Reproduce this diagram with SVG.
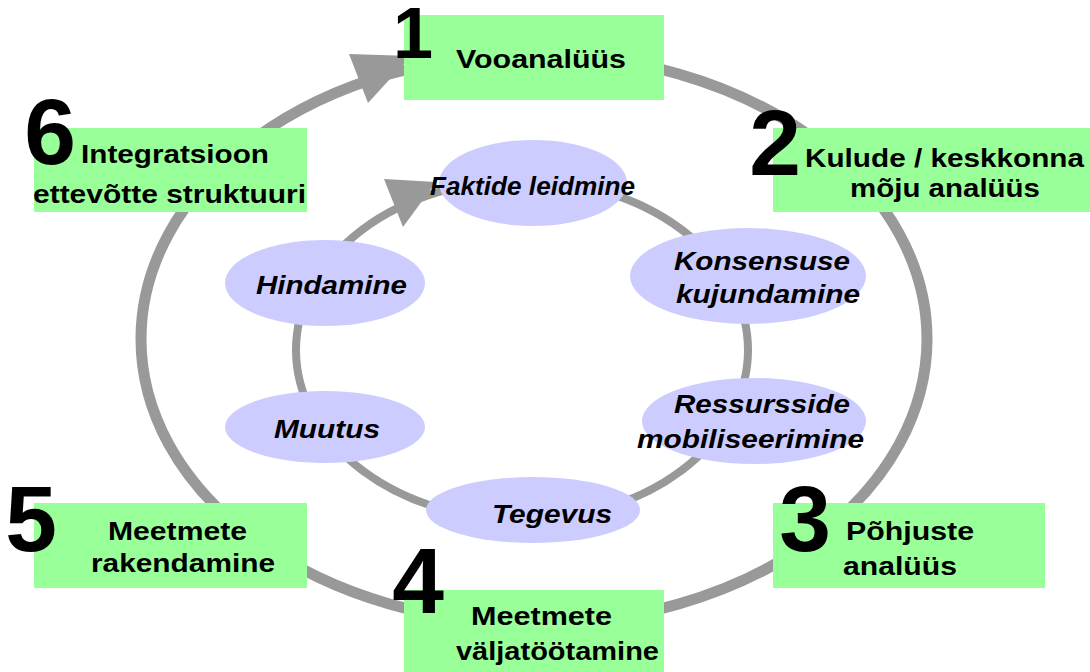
<svg xmlns="http://www.w3.org/2000/svg" width="1090" height="672" viewBox="0 0 1090 672">
<style>
.ring{fill:none;stroke:#999999}
.head{fill:#999999}
.box{fill:#99FF99}
.oval{fill:#CCCCFF}
.bt{font-family:"Liberation Sans",Arial,sans-serif;font-weight:bold;font-size:26px;fill:#000}
.it{font-family:"Liberation Sans",Arial,sans-serif;font-weight:bold;font-style:italic;font-size:26px;fill:#000}
.num{font-family:"Liberation Sans",Arial,sans-serif;font-weight:bold;font-size:93px;fill:#000;text-anchor:middle}
</style>
<rect width="1090" height="672" fill="#ffffff"/>
<g id="connectors">
  <ellipse class="ring" cx="534" cy="339" rx="393" ry="285" stroke-width="11"/>
  <polygon class="head" points="349,54 411,56 368,103"/>
  <ellipse class="ring" cx="522" cy="350" rx="226" ry="170" stroke-width="8"/>
  <polygon class="head" points="384,179 436,182 403,227"/>
</g>
<g id="step1">
  <rect class="box" x="404" y="15" width="260" height="85"/>
  <text class="bt" x="456" y="68" textLength="170" lengthAdjust="spacingAndGlyphs">Vooanalüüs</text>
  <text class="num" x="413" y="58" style="font-size:72px">1</text>
</g>
<g id="step2">
  <rect class="box" x="773" y="128" width="317" height="84"/>
  <text class="bt" x="805" y="167" textLength="279" lengthAdjust="spacingAndGlyphs">Kulude / keskkonna</text>
  <text class="bt" x="850" y="197" textLength="190" lengthAdjust="spacingAndGlyphs">mõju analüüs</text>
  <text class="num" x="775" y="175">2</text>
</g>
<g id="step3">
  <rect class="box" x="773" y="503" width="272" height="85"/>
  <text class="bt" x="846" y="540" textLength="128" lengthAdjust="spacingAndGlyphs">Põhjuste</text>
  <text class="bt" x="843" y="575" textLength="114" lengthAdjust="spacingAndGlyphs">analüüs</text>
  <text class="num" x="805" y="551">3</text>
</g>
<g id="step4">
  <rect class="box" x="404" y="590" width="260" height="82"/>
  <text class="bt" x="471" y="625" textLength="141" lengthAdjust="spacingAndGlyphs">Meetmete</text>
  <text class="bt" x="456" y="660" textLength="203" lengthAdjust="spacingAndGlyphs">väljatöötamine</text>
  <text class="num" x="418" y="613">4</text>
</g>
<g id="step5">
  <rect class="box" x="34" y="503" width="273" height="85"/>
  <text class="bt" x="108" y="540" textLength="139" lengthAdjust="spacingAndGlyphs">Meetmete</text>
  <text class="bt" x="91" y="572" textLength="184" lengthAdjust="spacingAndGlyphs">rakendamine</text>
  <text class="num" x="31" y="551">5</text>
</g>
<g id="step6">
  <rect class="box" x="34" y="128" width="273" height="84"/>
  <text class="bt" x="81" y="163" textLength="188" lengthAdjust="spacingAndGlyphs">Integratsioon</text>
  <text class="bt" x="33" y="203" textLength="273" lengthAdjust="spacingAndGlyphs">ettevõtte struktuuri</text>
  <text class="num" x="50" y="164">6</text>
</g>
<g id="faktide">
  <ellipse class="oval" cx="533" cy="183" rx="94" ry="43"/>
  <text class="it" x="430" y="195" textLength="205" lengthAdjust="spacingAndGlyphs">Faktide leidmine</text>
</g>
<g id="konsensuse">
  <ellipse class="oval" cx="748" cy="276" rx="118" ry="48"/>
  <text class="it" x="674" y="270" textLength="176" lengthAdjust="spacingAndGlyphs">Konsensuse</text>
  <text class="it" x="676" y="303" textLength="184" lengthAdjust="spacingAndGlyphs">kujundamine</text>
</g>
<g id="ressursside">
  <ellipse class="oval" cx="754" cy="421" rx="112" ry="43"/>
  <text class="it" x="674" y="413" textLength="176" lengthAdjust="spacingAndGlyphs">Ressursside</text>
  <text class="it" x="637" y="448" textLength="227" lengthAdjust="spacingAndGlyphs">mobiliseerimine</text>
</g>
<g id="tegevus">
  <ellipse class="oval" cx="533" cy="510" rx="107" ry="33"/>
  <text class="it" x="492" y="523" textLength="120" lengthAdjust="spacingAndGlyphs">Tegevus</text>
</g>
<g id="muutus">
  <ellipse class="oval" cx="325" cy="427" rx="100" ry="36"/>
  <text class="it" x="274" y="438" textLength="106" lengthAdjust="spacingAndGlyphs">Muutus</text>
</g>
<g id="hindamine">
  <ellipse class="oval" cx="325" cy="283" rx="100" ry="43"/>
  <text class="it" x="256" y="294" textLength="151" lengthAdjust="spacingAndGlyphs">Hindamine</text>
</g>
</svg>
